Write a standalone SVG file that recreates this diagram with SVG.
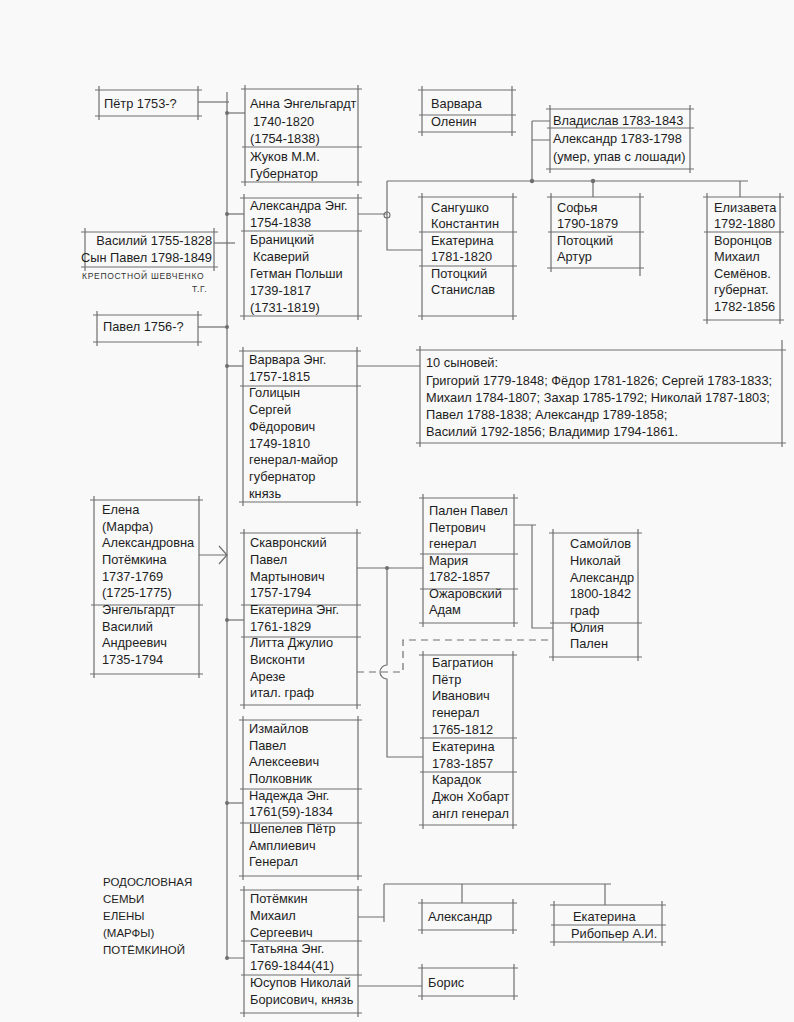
<svg xmlns="http://www.w3.org/2000/svg" width="794" height="1022" viewBox="0 0 794 1022">
<style>
.bg{fill:#f9f9f9}
.b{fill:none;stroke:#6f6f6f;stroke-width:1.2}
.ln{fill:none;stroke:#6f6f6f;stroke-width:1.2}
.dash{fill:none;stroke:#6f6f6f;stroke-width:1.2;stroke-dasharray:7 5}
.dot{fill:#6f6f6f}
.knot{fill:none;stroke:#6f6f6f;stroke-width:1.1}
text{font-family:"Liberation Sans",Arial,sans-serif;font-size:12.8px;fill:#1e1e1e}
.t{font-size:11.5px}
.hand{font-size:8.5px;letter-spacing:0.7px;fill:#333}
</style>
<rect class="bg" x="0" y="0" width="794" height="1022"/>

<g id="connectors">
<path class="ln" d="M227 92V958H244"/>
<path class="ln" d="M198 102H229"/>
<path class="ln" d="M227 113H245"/>
<path class="ln" d="M227 214H244"/>
<path class="ln" d="M214 243H235"/>
<path class="ln" d="M198 327H227"/>
<path class="ln" d="M227 366H243"/>
<path class="ln" d="M199 555H227M219 546L227 555L219 564"/>
<path class="ln" d="M227 620H244"/>
<path class="ln" d="M227 803H243"/>
<circle class="dot" cx="227" cy="113" r="2"/>
<circle class="dot" cx="227" cy="214" r="2"/>
<circle class="dot" cx="227" cy="327" r="2"/>
<circle class="dot" cx="227" cy="366" r="2"/>
<circle class="dot" cx="227" cy="620" r="2"/>
<circle class="dot" cx="227" cy="803" r="2"/>
<circle class="dot" cx="227" cy="958" r="2"/>
<path class="ln" d="M358 214H387M387 181V250H422M387 181H748"/>
<circle class="knot" cx="387" cy="215" r="3"/>
<path class="ln" d="M532 121V181M532 121H550M532 140H550"/>
<circle class="dot" cx="532" cy="181" r="2.2"/>
<path class="ln" d="M593 181V197"/>
<circle class="dot" cx="593" cy="181" r="2.2"/>
<path class="ln" d="M740 181V197"/>
<path class="ln" d="M357 366H420"/>
<path class="ln" d="M357 568H423M387 568V665A7 7 0 0 0 387 679V757H423"/>
<circle class="dot" cx="387" cy="568" r="2"/>
<path class="dash" d="M357 672H403V640H553"/>
<path class="ln" d="M514 525H536M532 525V628H553"/>
<path class="ln" d="M358 917H384M384 884V922M384 884H611M462 884V903M605 884V905"/>
<path class="ln" d="M358 986H422"/>
</g>

<g id="n-petr">
<path class="b" d="M95 90H202M95 116H202M99 86V120M198 86V120"/>
<text x="104" y="108">Пётр 1753-?</text>
</g>

<g id="n-anna">
<path class="b" d="M241 89H362M241 182H362M245 85V186M358 85V186M242 147H362"/>
<text x="250" y="108">Анна Энгельгардт</text>
<text x="253" y="125.5">1740-1820</text>
<text x="250" y="143">(1754-1838)</text>
<text x="250" y="161">Жуков М.М.</text>
<text x="250" y="178">Губернатор</text>
</g>

<g id="n-varvara-olenin">
<path class="b" d="M418 90H516M418 132H516M422 86V136M512 86V136M419 115H516"/>
<text x="431" y="108">Варвара</text>
<text x="431" y="126">Оленин</text>
</g>

<g id="n-vladislav">
<path class="b" d="M546 109H694M546 169H694M550 105V173M690 105V173M547 128H694"/>
<text x="553" y="125">Владислав 1783-1843</text>
<text x="553" y="143">Александр 1783-1798</text>
<text x="553" y="161">(умер, упав с лошади)</text>
</g>

<g id="n-alexandra">
<path class="b" d="M240 198H362M240 316H362M244 194V320M358 194V320M241 231H362"/>
<text x="250" y="210">Александра Энг.</text>
<text x="250" y="227">1754-1838</text>
<text x="250" y="244">Браницкий</text>
<text x="253" y="261">Ксаверий</text>
<text x="250" y="278">Гетман Польши</text>
<text x="250" y="295">1739-1817</text>
<text x="250" y="312">(1731-1819)</text>
</g>

<g id="n-vasily">
<path class="b" d="M81 232H218M81 267H218M85 228V271M214 228V271"/>
<text x="212" y="245" text-anchor="end">Василий 1755-1828</text>
<text x="212" y="262" text-anchor="end">Сын Павел 1798-1849</text>
<text class="hand" x="82" y="279">КРЕПОСТНОЙ ШЕВЧЕНКО</text>
<text class="hand" x="192" y="292">Т.Г.</text>
</g>

<g id="n-pavel">
<path class="b" d="M93 315H202M93 342H202M97 311V346M198 311V346"/>
<text x="103" y="331">Павел 1756-?</text>
</g>

<g id="n-sangushko">
<path class="b" d="M418 197H517M418 316H517M422 193V320M513 193V320M419 232H517M419 266H517"/>
<text x="431" y="212">Сангушко</text>
<text x="431" y="228">Константин</text>
<text x="431" y="245">Екатерина</text>
<text x="431" y="261">1781-1820</text>
<text x="431" y="278">Потоцкий</text>
<text x="431" y="294">Станислав</text>
</g>

<g id="n-sofya">
<path class="b" d="M547 197H644M547 268H644M551 193V272M640 193V276M548 232H644"/>
<text x="557" y="212">Софья</text>
<text x="557" y="228">1790-1879</text>
<text x="557" y="245">Потоцкий</text>
<text x="557" y="261">Артур</text>
</g>

<g id="n-elizaveta">
<path class="b" d="M703 197H784M703 320H784M707 193V324M780 193V324M704 232H784"/>
<text x="714" y="212">Елизавета</text>
<text x="714" y="228">1792-1880</text>
<text x="714" y="245">Воронцов</text>
<text x="714" y="261">Михаил</text>
<text x="714" y="278">Семёнов.</text>
<text x="714" y="294">губернат.</text>
<text x="714" y="311">1782-1856</text>
</g>

<g id="n-varvara-eng">
<path class="b" d="M239 351H361M239 502H361M243 347V506M357 347V506M240 386H361"/>
<text x="249" y="364">Варвара Энг.</text>
<text x="249" y="380.7">1757-1815</text>
<text x="249" y="397.4">Голицын</text>
<text x="249" y="414">Сергей</text>
<text x="249" y="430.8">Фёдорович</text>
<text x="249" y="447.5">1749-1810</text>
<text x="249" y="464">генерал-майор</text>
<text x="249" y="481">губернатор</text>
<text x="249" y="497.6">князь</text>
</g>

<g id="n-sons">
<path class="b" d="M416 350H786M416 443H786M420 346V447M782 340V447"/>
<text x="426" y="367">10 сыновей:</text>
<text x="426" y="385">Григорий 1779-1848; Фёдор 1781-1826; Сергей 1783-1833;</text>
<text x="426" y="402">Михаил 1784-1807; Захар 1785-1792; Николай 1787-1803;</text>
<text x="426" y="419">Павел 1788-1838; Александр 1789-1858;</text>
<text x="426" y="436">Василий 1792-1856; Владимир 1794-1861.</text>
</g>

<g id="n-elena">
<path class="b" d="M90 500H203M90 674H203M94 496V678M199 496V678M91 605H203"/>
<text x="102" y="514">Елена</text>
<text x="102" y="531">(Марфа)</text>
<text x="102" y="547">Александровна</text>
<text x="102" y="564">Потёмкина</text>
<text x="102" y="581">1737-1769</text>
<text x="102" y="597">(1725-1775)</text>
<text x="102" y="614">Энгельгардт</text>
<text x="102" y="631">Василий</text>
<text x="102" y="647">Андреевич</text>
<text x="102" y="664">1735-1794</text>
</g>

<g id="n-skavronsky">
<path class="b" d="M240 533H361M240 705H361M244 529V709M357 529V709M241 605H361M241 637H361"/>
<text x="250" y="547">Скавронский</text>
<text x="250" y="564">Павел</text>
<text x="250" y="581">Мартынович</text>
<text x="250" y="597">1757-1794</text>
<text x="250" y="614">Екатерина Энг.</text>
<text x="250" y="631">1761-1829</text>
<text x="250" y="647">Литта Джулио</text>
<text x="250" y="664">Висконти</text>
<text x="250" y="681">Арезе</text>
<text x="250" y="697">итал. граф</text>
</g>

<g id="n-palen-maria">
<path class="b" d="M419 498H518M419 623H518M423 494V627M514 494V627M420 554H518M420 589H518"/>
<text x="429" y="515">Пален Павел</text>
<text x="429" y="532">Петрович</text>
<text x="429" y="548">генерал</text>
<text x="429" y="565">Мария</text>
<text x="429" y="581">1782-1857</text>
<text x="429" y="598">Ожаровский</text>
<text x="429" y="614">Адам</text>
</g>

<g id="n-samoylov">
<path class="b" d="M549 533H642M549 657H642M553 529V661M638 529V661M550 623H642"/>
<text x="570" y="548">Самойлов</text>
<text x="570" y="565">Николай</text>
<text x="570" y="582">Александр</text>
<text x="570" y="598">1800-1842</text>
<text x="570" y="615">граф</text>
<text x="570" y="632">Юлия</text>
<text x="570" y="648">Пален</text>
</g>

<g id="n-bagration">
<path class="b" d="M419 655H517M419 825H517M423 651V829M513 651V829M420 738H517M420 772H517"/>
<text x="432" y="667">Багратион</text>
<text x="432" y="684">Пётр</text>
<text x="432" y="700">Иванович</text>
<text x="432" y="717">генерал</text>
<text x="432" y="734">1765-1812</text>
<text x="432" y="751">Екатерина</text>
<text x="432" y="768">1783-1857</text>
<text x="432" y="784">Карадок</text>
<text x="432" y="801">Джон Хобарт</text>
<text x="432" y="818">англ генерал</text>
</g>

<g id="n-izmailov">
<path class="b" d="M239 720H362M239 876H362M243 716V880M358 716V880M240 789H362M240 823H362"/>
<text x="249" y="733">Измайлов</text>
<text x="249" y="750">Павел</text>
<text x="249" y="766">Алексеевич</text>
<text x="249" y="783">Полковник</text>
<text x="249" y="800">Надежда Энг.</text>
<text x="249" y="816">1761(59)-1834</text>
<text x="249" y="833">Шепелев Пётр</text>
<text x="249" y="850">Амплиевич</text>
<text x="249" y="866">Генерал</text>
</g>

<g id="n-title">
<text class="t" x="103" y="886">РОДОСЛОВНАЯ</text>
<text class="t" x="103" y="903">СЕМЬИ</text>
<text class="t" x="103" y="920">ЕЛЕНЫ</text>
<text class="t" x="103" y="937">(МАРФЫ)</text>
<text class="t" x="103" y="954">ПОТЁМКИНОЙ</text>
</g>

<g id="n-potemkin">
<path class="b" d="M240 890H362M240 1013H362M244 886V1017M358 886V1017M241 941H362M241 975H362"/>
<text x="250" y="903">Потёмкин</text>
<text x="250" y="920">Михаил</text>
<text x="250" y="937">Сергеевич</text>
<text x="250" y="953">Татьяна Энг.</text>
<text x="250" y="970">1769-1844(41)</text>
<text x="250" y="987">Юсупов Николай</text>
<text x="250" y="1004">Борисович, князь</text>
</g>

<g id="n-alexandr">
<path class="b" d="M418 903H517M418 930H517M422 899V934M513 899V934"/>
<text x="428" y="921">Александр</text>
</g>

<g id="n-ekaterina-ribopier">
<path class="b" d="M550 905H666M550 942H666M554 901V946M662 901V946M551 925H666"/>
<text x="573" y="921">Екатерина</text>
<text x="571" y="938">Рибопьер А.И.</text>
</g>

<g id="n-boris">
<path class="b" d="M418 968H518M418 996H518M422 964V1000M514 964V1000"/>
<text x="428" y="987">Борис</text>
</g>
</svg>
